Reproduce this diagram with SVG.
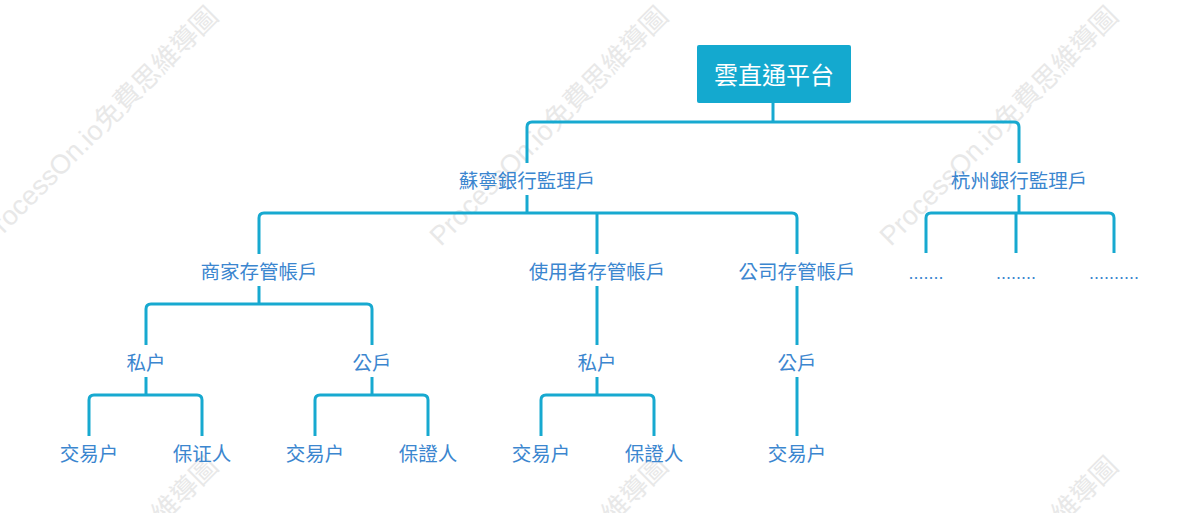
<svg xmlns="http://www.w3.org/2000/svg" width="1199" height="530" viewBox="0 0 1199 530">
<defs>
<style>
.wm{font-family:"Liberation Sans","Noto Sans CJK TC",sans-serif;font-size:27px;fill:#e8e8e8;text-anchor:middle;dominant-baseline:central}
.lbl{font-family:"Liberation Sans","Noto Sans CJK TC",sans-serif;font-size:19.5px;fill:#3b86cf;text-anchor:middle}
.dots{font-family:"Liberation Sans",sans-serif;font-size:18px;fill:#3b86cf;text-anchor:middle}
.root{font-family:"Liberation Sans","Noto Sans CJK TC",sans-serif;font-size:24px;fill:#ffffff;text-anchor:middle}
.ln{fill:none;stroke:#17a9d0;stroke-width:3;stroke-linecap:butt;stroke-linejoin:round}
</style>
<clipPath id="clipwm"><rect x="0" y="0" width="1199" height="513"/></clipPath>
</defs>
<rect x="0" y="0" width="1199" height="530" fill="#ffffff"/>
<g id="watermarks" clip-path="url(#clipwm)">
<text class="wm" transform="translate(99,126) rotate(-45)">ProcessOn.io免費思維導圖</text>
<text class="wm" transform="translate(549,126) rotate(-45)">ProcessOn.io免費思維導圖</text>
<text class="wm" transform="translate(999,126) rotate(-45)">ProcessOn.io免費思維導圖</text>
<text class="wm" transform="translate(99,576) rotate(-45)">ProcessOn.io免費思維導圖</text>
<text class="wm" transform="translate(549,576) rotate(-45)">ProcessOn.io免費思維導圖</text>
<text class="wm" transform="translate(999,576) rotate(-45)">ProcessOn.io免費思維導圖</text>
</g>
<g id="connectors">
<path class="ln" d="M773,103 V122"/>
<path class="ln" d="M527,163 V127 Q527,122 532,122 H1014 Q1019,122 1019,127 V163"/>
<path class="ln" d="M527,195 V213"/>
<path class="ln" d="M259,254 V218 Q259,213 264,213 H792 Q797,213 797,218 V254"/>
<path class="ln" d="M597,213 V254"/>
<path class="ln" d="M1019,195 V213"/>
<path class="ln" d="M926,253 V218 Q926,213 931,213 H1109 Q1114,213 1114,218 V253"/>
<path class="ln" d="M1016,213 V253"/>
<path class="ln" d="M259,286 V304"/>
<path class="ln" d="M146,345 V309 Q146,304 151,304 H367 Q372,304 372,309 V345"/>
<path class="ln" d="M597,286 V345"/>
<path class="ln" d="M797,286 V345"/>
<path class="ln" d="M146,377 V395"/>
<path class="ln" d="M89,436 V400 Q89,395 94,395 H197 Q202,395 202,400 V436"/>
<path class="ln" d="M372,377 V395"/>
<path class="ln" d="M315,436 V400 Q315,395 320,395 H423 Q428,395 428,400 V436"/>
<path class="ln" d="M597,377 V395"/>
<path class="ln" d="M541,436 V400 Q541,395 546,395 H649 Q654,395 654,400 V436"/>
<path class="ln" d="M797,377 V436"/>
</g>
<g id="root"><rect x="697" y="45" width="154" height="58" rx="2" fill="#14a9cf"/><text class="root" x="774" y="84">雲直通平台</text></g>
<g id="suning"><text class="lbl" x="527" y="188">蘇寧銀行監理戶</text></g>
<g id="hangzhou"><text class="lbl" x="1019" y="188">杭州銀行監理戶</text></g>
<g id="merchant"><text class="lbl" x="259" y="279">商家存管帳戶</text></g>
<g id="user"><text class="lbl" x="597" y="279">使用者存管帳戶</text></g>
<g id="company"><text class="lbl" x="797" y="279">公司存管帳戶</text></g>
<g id="hz1"><text class="dots" x="926" y="279">.......</text></g>
<g id="hz2"><text class="dots" x="1016" y="279">........</text></g>
<g id="hz3"><text class="dots" x="1114" y="279">..........</text></g>
<g id="m-private"><text class="lbl" x="146" y="370">私户</text></g>
<g id="m-public"><text class="lbl" x="372" y="370">公戶</text></g>
<g id="u-private"><text class="lbl" x="597" y="370">私户</text></g>
<g id="c-public"><text class="lbl" x="797" y="370">公戶</text></g>
<g id="mp-trade"><text class="lbl" x="89" y="461">交易户</text></g>
<g id="mp-guar"><text class="lbl" x="202" y="461">保证人</text></g>
<g id="mq-trade"><text class="lbl" x="315" y="461">交易户</text></g>
<g id="mq-guar"><text class="lbl" x="428" y="461">保證人</text></g>
<g id="up-trade"><text class="lbl" x="541" y="461">交易户</text></g>
<g id="up-guar"><text class="lbl" x="654" y="461">保證人</text></g>
<g id="cp-trade"><text class="lbl" x="797" y="461">交易户</text></g>
</svg>
